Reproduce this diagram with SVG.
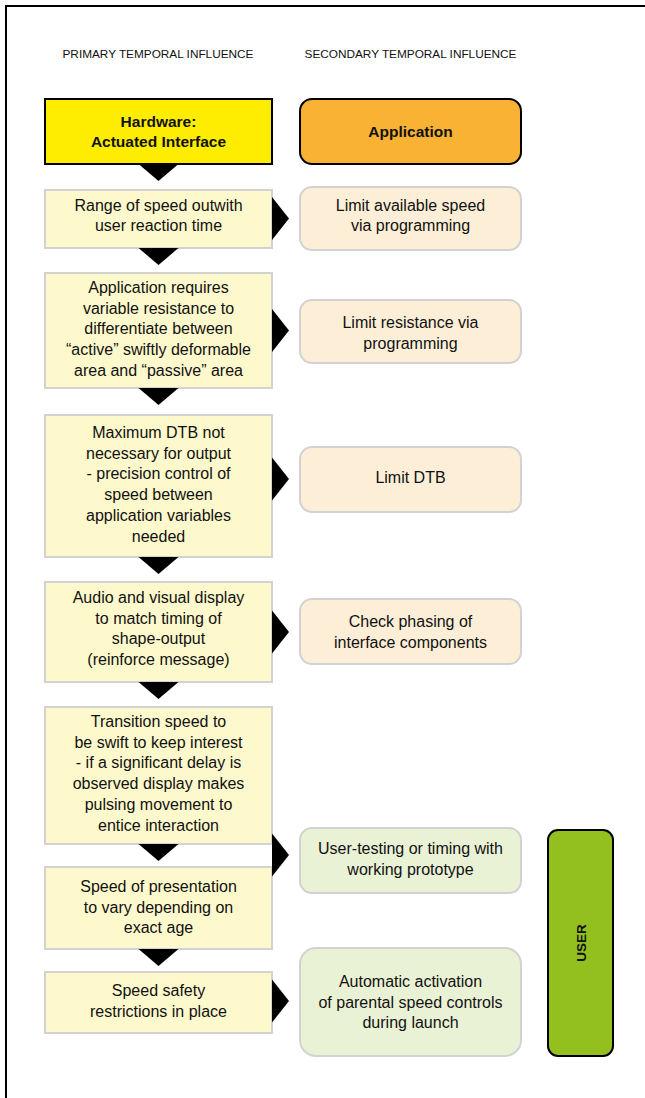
<svg xmlns="http://www.w3.org/2000/svg" width="645" height="1098" viewBox="0 0 645 1098">
<style>
.hdr{font-family:"Liberation Sans",Arial,sans-serif;font-size:11.8px;fill:#111;text-anchor:middle}
.t{font-family:"Liberation Sans",Arial,sans-serif;font-size:16px;fill:#111;text-anchor:middle}
.b{font-family:"Liberation Sans",Arial,sans-serif;font-size:15.5px;font-weight:bold;fill:#111;text-anchor:middle}
.prim{fill:#FEF9CC;stroke:#D2D2D2;stroke-width:2}
.sec{fill:#FDEFD7;stroke:#D2D2D2;stroke-width:2}
.usr{fill:#EAF2D6;stroke:#D2D2D2;stroke-width:2}
.arrow{fill:#000}
</style>
<rect x="0" y="0" width="645" height="1098" fill="#fff"/>
<path d="M6,1098 V6 H645" fill="none" stroke="#000" stroke-width="2"/>
<g id="headers">
<text class="hdr" x="158" y="58">PRIMARY TEMPORAL INFLUENCE</text>
<text class="hdr" x="410.5" y="58">SECONDARY TEMPORAL INFLUENCE</text>
</g>
<g id="hardware">
<rect x="45" y="99" width="227" height="65" fill="#FFED00" stroke="#000" stroke-width="2"/>
<text class="b" x="158.5" y="127">Hardware:</text>
<text class="b" x="158.5" y="147">Actuated Interface</text>
</g>
<g id="application">
<rect x="300" y="99" width="221" height="65" rx="12" fill="#F9B233" stroke="#000" stroke-width="2"/>
<text class="b" x="410.5" y="137">Application</text>
</g>
<g id="p1">
<rect class="prim" x="45" y="190" width="227" height="58"/>
<text class="t" x="158.5" y="211">Range of speed outwith</text>
<text class="t" x="158.5" y="231">user reaction time</text>
</g>
<g id="s1">
<rect class="sec" x="300" y="187" width="221" height="63" rx="12"/>
<text class="t" x="410.5" y="211">Limit available speed</text>
<text class="t" x="410.5" y="231">via programming</text>
</g>
<g id="p2">
<rect class="prim" x="45" y="273" width="227" height="115"/>
<text class="t" x="158.5" y="293">Application requires</text>
<text class="t" x="158.5" y="313.7">variable resistance to</text>
<text class="t" x="158.5" y="334.4">differentiate between</text>
<text class="t" x="158.5" y="355.1">“active” swiftly deformable</text>
<text class="t" x="158.5" y="375.8">area and “passive” area</text>
</g>
<g id="s2">
<rect class="sec" x="300" y="300" width="221" height="63" rx="12"/>
<text class="t" x="410.5" y="328">Limit resistance via</text>
<text class="t" x="410.5" y="348.5">programming</text>
</g>
<g id="p3">
<rect class="prim" x="45" y="415" width="227" height="142"/>
<text class="t" x="158.5" y="438">Maximum DTB not</text>
<text class="t" x="158.5" y="458.7">necessary for output</text>
<text class="t" x="158.5" y="479.4">- precision control of</text>
<text class="t" x="158.5" y="500.1">speed between</text>
<text class="t" x="158.5" y="520.8">application variables</text>
<text class="t" x="158.5" y="541.5">needed</text>
</g>
<g id="s3">
<rect class="sec" x="300" y="447" width="221" height="65" rx="12"/>
<text class="t" x="410.5" y="482.5">Limit DTB</text>
</g>
<g id="p4">
<rect class="prim" x="45" y="582" width="227" height="100"/>
<text class="t" x="158.5" y="603">Audio and visual display</text>
<text class="t" x="158.5" y="623.7">to match timing of</text>
<text class="t" x="158.5" y="644.4">shape-output</text>
<text class="t" x="158.5" y="665.1">(reinforce message)</text>
</g>
<g id="s4">
<rect class="sec" x="300" y="599" width="221" height="65" rx="12"/>
<text class="t" x="410.5" y="627">Check phasing of</text>
<text class="t" x="410.5" y="647.5">interface components</text>
</g>
<g id="p5">
<rect class="prim" x="45" y="707" width="227" height="137"/>
<text class="t" x="158.5" y="727">Transition speed to</text>
<text class="t" x="158.5" y="747.7">be swift to keep interest</text>
<text class="t" x="158.5" y="768.4">- if a significant delay is</text>
<text class="t" x="158.5" y="789.1">observed display makes</text>
<text class="t" x="158.5" y="809.8">pulsing movement to</text>
<text class="t" x="158.5" y="830.5">entice interaction</text>
</g>
<g id="u1">
<rect class="usr" x="300" y="828" width="221" height="65" rx="12"/>
<text class="t" x="410.5" y="854">User-testing or timing with</text>
<text class="t" x="410.5" y="875">working prototype</text>
</g>
<g id="p6">
<rect class="prim" x="45" y="867" width="227" height="82"/>
<text class="t" x="158.5" y="892">Speed of presentation</text>
<text class="t" x="158.5" y="912.7">to vary depending on</text>
<text class="t" x="158.5" y="933.4">exact age</text>
</g>
<g id="p7">
<rect class="prim" x="45" y="972" width="227" height="61"/>
<text class="t" x="158.5" y="996">Speed safety</text>
<text class="t" x="158.5" y="1016.7">restrictions in place</text>
</g>
<g id="u2">
<rect class="usr" x="300" y="948" width="221" height="108" rx="16"/>
<text class="t" x="410.5" y="987">Automatic activation</text>
<text class="t" x="410.5" y="1007.7">of parental speed controls</text>
<text class="t" x="410.5" y="1028.4">during launch</text>
</g>
<g id="user">
<rect x="548" y="830" width="65" height="226" rx="10" fill="#93C01F" stroke="#000" stroke-width="2"/>
<text class="b" style="font-size:13.5px" x="0" y="0" transform="translate(586,943) rotate(-90)">USER</text>
</g>
<g id="connectors">
<polygon class="arrow" points="138.5,164 178.5,164 158.5,181"/>
<polygon class="arrow" points="138.5,248 178.5,248 158.5,265"/>
<polygon class="arrow" points="138.5,388 178.5,388 158.5,405"/>
<polygon class="arrow" points="138.5,557 178.5,557 158.5,574"/>
<polygon class="arrow" points="138.5,682 178.5,682 158.5,699"/>
<polygon class="arrow" points="138.5,844 178.5,844 158.5,861"/>
<polygon class="arrow" points="138.5,949 178.5,949 158.5,966"/>
<polygon class="arrow" points="272,197 272,240 289,218.5"/>
<polygon class="arrow" points="272,309 272,352 289,330.5"/>
<polygon class="arrow" points="272,457.5 272,500.5 289,479"/>
<polygon class="arrow" points="272,610.5 272,653.5 289,632"/>
<polygon class="arrow" points="272,833.5 272,876.5 289,855"/>
<polygon class="arrow" points="272,979.5 272,1022.5 289,1001"/>
</g>
</svg>
